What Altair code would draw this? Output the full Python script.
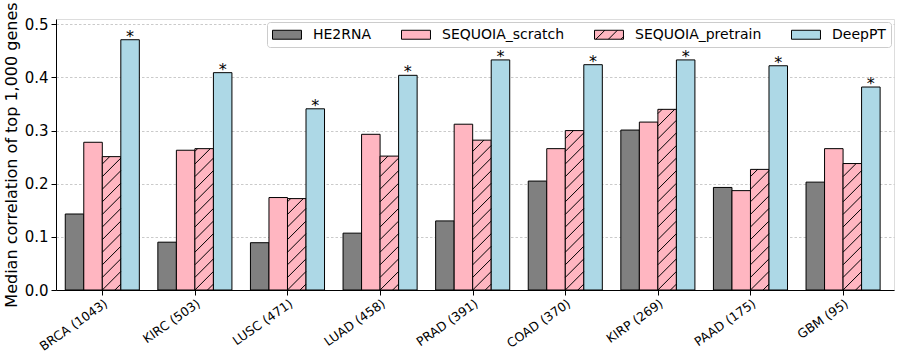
import altair as alt
import pandas as pd
import json

# ---------------- data ----------------
cancers = ["BRCA (1043)", "KIRC (503)", "LUSC (471)", "LUAD (458)", "PRAD (391)",
           "COAD (370)", "KIRP (269)", "PAAD (175)", "GBM (95)"]
methods = ["HE2RNA", "SEQUOIA_scratch", "SEQUOIA_pretrain", "DeepPT"]
he2rna = [0.143, 0.090, 0.089, 0.107, 0.130, 0.205, 0.301, 0.193, 0.203]
seq_scratch = [0.278, 0.263, 0.174, 0.293, 0.312, 0.266, 0.316, 0.187, 0.266]
seq_pretrain = [0.251, 0.266, 0.172, 0.252, 0.282, 0.300, 0.340, 0.227, 0.238]
deeppt = [0.471, 0.409, 0.341, 0.404, 0.433, 0.424, 0.433, 0.422, 0.382]
deeppt_significant = [True, True, True, True, True, True, True, True, True]
y_ticks = [0.0, 0.1, 0.2, 0.3, 0.4, 0.5]

colors = ["#808080", "#FFB6C1", "#FFB6C1", "#ADD8E6"]
FONT = "DejaVu Sans"

# ---------------- layout constants ----------------
W, H = 838, 271
XDOM = [-0.5, 8.55]
YDOM = [0.0, 0.51]
BAR_W = 0.2
HATCH_SPACING_PX = 12.6

series = [he2rna, seq_scratch, seq_pretrain, deeppt]
rows = []
for mi, (m, vals) in enumerate(zip(methods, series)):
    for gi, (c, v) in enumerate(zip(cancers, vals)):
        rows.append({"cancer": c, "gi": gi, "method": m, "mi": mi, "value": v,
                     "sig": bool(deeppt_significant[gi]) if m == "DeepPT" else False})
df = pd.DataFrame(rows)

# hatch segments ("/") for the hatched series, derived from its values
px_x = (XDOM[1] - XDOM[0]) / W
px_y = (YDOM[1] - YDOM[0]) / H
bw_px = BAR_W / px_x
hatch_rows = []
hmi = methods.index("SEQUOIA_pretrain")
for gi, v in enumerate(seq_pretrain):
    left = gi + (hmi - 2) * BAR_W
    h_px = v / px_y
    k0 = int(bw_px // HATCH_SPACING_PX) + 1
    c = -k0 * HATCH_SPACING_PX
    while c < h_px:
        x0 = max(0.0, -c)
        x1 = min(bw_px, h_px - c)
        if x1 > x0 + 0.3:
            hatch_rows.append({"hx": left + x0 * px_x, "hx2": left + x1 * px_x,
                               "hy": (c + x0) * px_y, "hy2": (c + x1) * px_y})
        c += HATCH_SPACING_PX
hatch_df = pd.DataFrame(hatch_rows)

# legend swatch shapes (unit coords, symbol radius 7px -> 29x9 px swatch)
rect_path = "M-1,-0.64H3.14V0.64H-1Z"
hatch_path = rect_path + ("M-0.8,0.64L0.48,-0.64M0.99,0.64L2.27,-0.64"
                          "M2.78,0.64L3.14,0.28")
sym_expr = "datum.value == '%s' ? '%s' : '%s'" % (methods[hmi], hatch_path, rect_path)

label_expr = json.dumps(cancers).replace('"', "'") + "[datum.value]"

xscale = alt.Scale(domain=XDOM, nice=False, zero=False)
yscale = alt.Scale(domain=YDOM, nice=False)
ytitle = "Median correlation of top 1,000 genes"

xaxis = alt.Axis(values=list(range(len(cancers))), labelExpr=label_expr, labelAngle=-35,
                 labelAlign="right", labelBaseline="top", labelFontSize=12.5, labelFont=FONT,
                 labelColor="black", tickSize=5, tickColor="black", grid=False,
                 domainColor="black", labelPadding=2, title=None)
yaxis = alt.Axis(values=y_ticks, format=".1f", labelFontSize=15, labelFont=FONT,
                 labelColor="black", tickSize=5, tickColor="black", grid=True,
                 gridColor="#bdbdbd", gridDash=[2.5, 2], gridWidth=0.8,
                 domainColor="black", labelPadding=3, titleFontSize=16, titleFont=FONT,
                 titleFontWeight="normal", titleColor="black", titlePadding=5)

base = alt.Chart(df).transform_calculate(
    xl="datum.gi + (datum.mi - 2) * %s" % BAR_W,
    xr="datum.gi + (datum.mi - 1) * %s" % BAR_W,
)

bars = base.mark_rect(stroke="black", strokeWidth=1, opacity=1).encode(
    x=alt.X("xl:Q", scale=xscale, axis=xaxis),
    x2="xr:Q",
    y=alt.Y("value:Q", scale=yscale, axis=yaxis, title=ytitle),
    y2=alt.datum(0),
    fill=alt.Fill("method:N", scale=alt.Scale(domain=methods, range=colors),
                  legend=alt.Legend(title=None, orient="top-right", direction="horizontal",
                                    columns=4, offset=3, fillColor="white",
                                    strokeColor="#cccccc", cornerRadius=3, padding=5,
                                    labelFontSize=14, labelFont=FONT, labelColor="black",
                                    symbolType={"expr": sym_expr}, symbolSize=196,
                                    symbolStrokeColor="black", symbolStrokeWidth=1,
                                    columnPadding=27, labelOffset=26, symbolOpacity=1)),
)

hatch = alt.Chart(hatch_df).mark_rule(color="black", strokeWidth=1).encode(
    x=alt.X("hx:Q", scale=xscale, title=None),
    x2="hx2:Q",
    y=alt.Y("hy:Q", scale=yscale, title=ytitle),
    y2="hy2:Q",
)

stars = base.transform_filter("datum.sig").transform_calculate(
    xc="datum.gi + (datum.mi - 1.5) * %s" % BAR_W
).mark_text(text="*", fontSize=16, font=FONT, color="black", baseline="alphabetic", dy=2).encode(
    x=alt.X("xc:Q", scale=xscale, title=None),
    y=alt.Y("value:Q", scale=yscale, title=ytitle),
)

chart = alt.layer(bars, hatch, stars).properties(
    width=W, height=H, autosize="none",
    padding={"left": 56, "top": 19, "right": 6, "bottom": 66},
).configure_view(stroke="black", strokeWidth=1).configure(background="white")

chart.save("out.html", embed_options={"renderer": "svg", "actions": False})
